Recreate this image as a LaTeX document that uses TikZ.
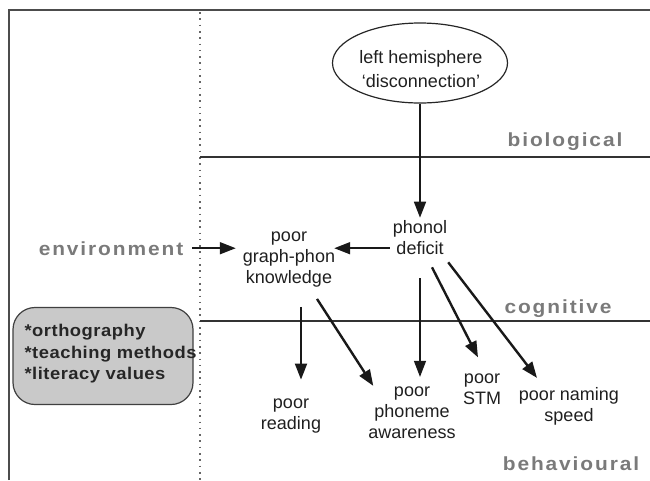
\documentclass[tikz,border=0pt]{standalone}
\usepackage{fontspec}
\setmainfont{Liberation Sans}
\newfontfamily\levelfont[LetterSpace=10,FakeStretch=1.1]{Liberation Sans}
\newfontfamily\factorfont[LetterSpace=3,FakeStretch=1.08]{Liberation Sans}
\usetikzlibrary{arrows.meta,shapes.geometric,calc}

\begin{document}
\begin{tikzpicture}[x=1pt,y=-1pt,
  txt/.style={align=center,inner sep=3pt,text=black!88,
    font=\fontsize{18}{21}\selectfont},
  level/.style={anchor=base,inner sep=0pt,text=black!52,
    font=\levelfont\bfseries\fontsize{19}{21}\selectfont},
  arr/.style={-{Triangle[length=16pt,width=12pt]},line width=1.6pt,black!90},
  heavyarr/.style={arr,line width=2.4pt},
  rule/.style={line width=1.4pt,black!80},
]
\useasboundingbox (0,0) rectangle (650,480);

% frame and level separators
\draw[line width=1.5pt,black!70] (9,480) -- (9,10) -- (650,10);
\draw[line width=1.6pt,black!60,dash pattern=on 1.6pt off 4.7pt] (200,12) -- (200,480);
\draw[rule] (200,157) -- (650,157);
\draw[rule] (200,321) -- (650,321);

% level names
\node[level] (biological) at (565,146) {biological};
\node[level] (cognitive) at (558,313) {cognitive};
\node[level] (behavioural) at (571,470) {behavioural};
\node[level,inner xsep=9pt] (env) at (111,255) {environment};

% environmental factors
\node[draw=black!75,line width=1.2pt,fill=black!21,rounded corners=22pt,
  minimum width=180pt,minimum height=97pt] (factors) at (103,356) {};
\node[anchor=west,align=left,inner sep=0pt,text=black!85,
  font=\factorfont\bfseries\fontsize{17}{21.5}\selectfont]
  (factorlist) at ([xshift=12pt,yshift=2pt]factors.west)
  {*orthography\\*teaching methods\\*literacy values};

% biological cause
\node[draw,ellipse,line width=1.2pt,black!85,minimum width=175pt,
  minimum height=80pt,inner sep=0pt] (brain) at (420,63) {};
\node[txt,font=\fontsize{18}{24}\selectfont] (brainlbl) at (421,69)
  {left hemisphere\\‘disconnection’};

% cognitive deficits
\node[txt] (phonol) at (420,238) {phonol\\deficit};
\node[txt] (gp) at (289,260) {poor\\graph-phon\\knowledge};

% behavioural signs
\node[txt] (reading) at (291,416) {poor\\reading};
\node[txt] (phoneme) at (412,413) {poor\\phoneme\\awareness};
\node[txt] (stm) at (482,389) {poor\\STM};
\node[txt] (naming) at (569,406) {poor naming\\speed};

% causal links
\draw[arr] (brain.south) -- (phonol.north);
\draw[arr,line width=1.8pt] (phonol.west |- env.east) -- ([xshift=-4pt]gp.east |- env.east);
\draw[arr,line width=1.8pt] (env.east) -- ([xshift=-4pt]gp.west |- env.east);
\draw[arr,line width=2pt] ([shift={(12,16)}]gp.south) -- ([shift={(10,-16)}]reading.north);
\draw[heavyarr] ([shift={(28,8)}]gp.south) -- ([shift={(8,2)}]phoneme.north west);
\draw[arr,line width=1.3pt] ([yshift=-20pt]phonol.south) -- ([yshift=7pt]phonol.south |- phoneme.north);
\draw[heavyarr] ([shift={(12,9)}]phonol.south) -- ([shift={(-4,-13)}]stm.north);
\draw[heavyarr] ([shift={(-2,4)}]phonol.south east) -- ([shift={(-32,-6)}]naming.north);
\end{tikzpicture}
\end{document}
